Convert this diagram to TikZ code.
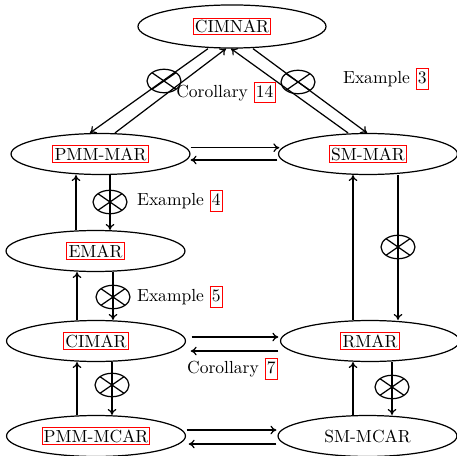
\documentclass[tikz,border=0pt]{standalone}
\usetikzlibrary{shapes.geometric,arrows.meta}
\newcommand\lk[1]{{\setlength\fboxsep{0.6pt}\setlength\fboxrule{0.65pt}\fcolorbox{red}{white}{#1}}}
\newcommand\lkr[1]{{\setlength\fboxsep{0.6pt}\setlength\fboxrule{0.65pt}\fcolorbox{red}{white}{\rule[-2.2pt]{0pt}{10pt}#1}}}
\begin{document}
\begin{tikzpicture}[x=0.5711pt,y=-0.5711pt,line width=0.7pt,
  >={To[length=3.4pt,width=5pt]},
  st/.style={draw,ellipse,inner sep=0pt,minimum width=102.2pt,minimum height=23.4pt},
  nx/.style={draw,ellipse,inner sep=0pt,minimum width=19.4pt,minimum height=13.4pt,
    path picture={\draw (path picture bounding box.north west) -- (path picture bounding box.south east)
                        (path picture bounding box.north east) -- (path picture bounding box.south west);}},
  lbl/.style={inner sep=0pt}]
\useasboundingbox (0,0) rectangle (457,456);
% main nodes
\node[st,minimum width=107.4pt,minimum height=24.6pt] (cimnar) at (232,26.5) {\lk{CIMNAR}};
\node[st] (pmmmar) at (100.5,154) {\lk{PMM-MAR}};
\node[st] (smmar) at (368,154) {\lk{SM-MAR}};
\node[st] (emar) at (95.5,251) {\lk{EMAR}};
\node[st] (cimar) at (96,341) {\lk{CIMAR}};
\node[st] (rmar) at (370,341) {\lk{RMAR}};
\node[st] (pmmmcar) at (96,436) {\lk{PMM-MCAR}};
\node[st] (smmcar) at (367.5,436) {SM-MCAR};
% diagonal connectors
\draw[->] (cimnar.south -| 208,0) -- (pmmmar.north -| 90,0);
\draw[->] (pmmmar.north -| 115,0) -- (cimnar.south -| 226,0);
\draw[->] (smmar.north -| 348,0) -- (cimnar.south -| 231,0);
\draw[->] (cimnar.south -| 253,0) -- (smmar.north -| 367,0);
% horizontal connectors
\draw[->] ([shift={(0,-6.3)}]pmmmar.east) -- ([shift={(1.4,-6.3)}]smmar.west);
\draw[->] ([shift={(-0.6,6)}]smmar.west) -- ([shift={(0,6)}]pmmmar.east);
\draw[->] ([shift={(5.6,-4)}]cimar.east) -- ([shift={(-1.6,-4)}]rmar.west);
\draw[->] ([shift={(-1.6,10)}]rmar.west) -- ([shift={(4.6,10)}]cimar.east);
\draw[->] ([shift={(0.6,-6)}]pmmmcar.east) -- ([shift={(-1,-6)}]smmcar.west);
\draw[->] ([shift={(-1,8)}]smmcar.west) -- ([shift={(2.6,8)}]pmmmcar.east);
% vertical connectors
\draw[->] (emar.north -| 76,0) -- (pmmmar.south -| 76,0);
\draw[->] (pmmmar.south -| 110,0) -- (emar.north -| 110,0);
\draw[->] (cimar.north -| 77,0) -- (emar.south -| 77,0);
\draw[->] (emar.south -| 113,0) -- (cimar.north -| 113,0);
\draw[->] (pmmmcar.north -| 77,0) -- (cimar.south -| 77,0);
\draw[->] (cimar.south -| 112,0) -- (pmmmcar.north -| 112,0);
\draw[->] (rmar.north -| 353,0) -- (smmar.south -| 353,0);
\draw[->] (smmar.south -| 398,0) -- (rmar.north -| 398,0);
\draw[->] (smmcar.north -| 353,0) -- (rmar.south -| 353,0);
\draw[->] (rmar.south -| 392,0) -- (smmcar.north -| 392,0);
% crossed marks
\node[nx] (x1) at (164,81) {};
\node[nx] (x2) at (298,82) {};
\node[nx] (x3) at (110,202) {};
\node[nx] (x4) at (113,297) {};
\node[nx] (x5) at (112,385) {};
\node[nx] (x6) at (398,247) {};
\node[nx] (x7) at (392,387) {};
% labels
\node[lbl] (l14) at (226,92.5) {Corollary \lkr{14}};
\node[lbl] (l3) at (386,79) {Example \lkr{3}};
\node[lbl] (l4) at (180,201) {Example \lkr{4}};
\node[lbl] (l5) at (180,297) {Example \lkr{5}};
\node[lbl] (l7) at (232.5,369) {Corollary \lkr{7}};
\end{tikzpicture}
\end{document}
